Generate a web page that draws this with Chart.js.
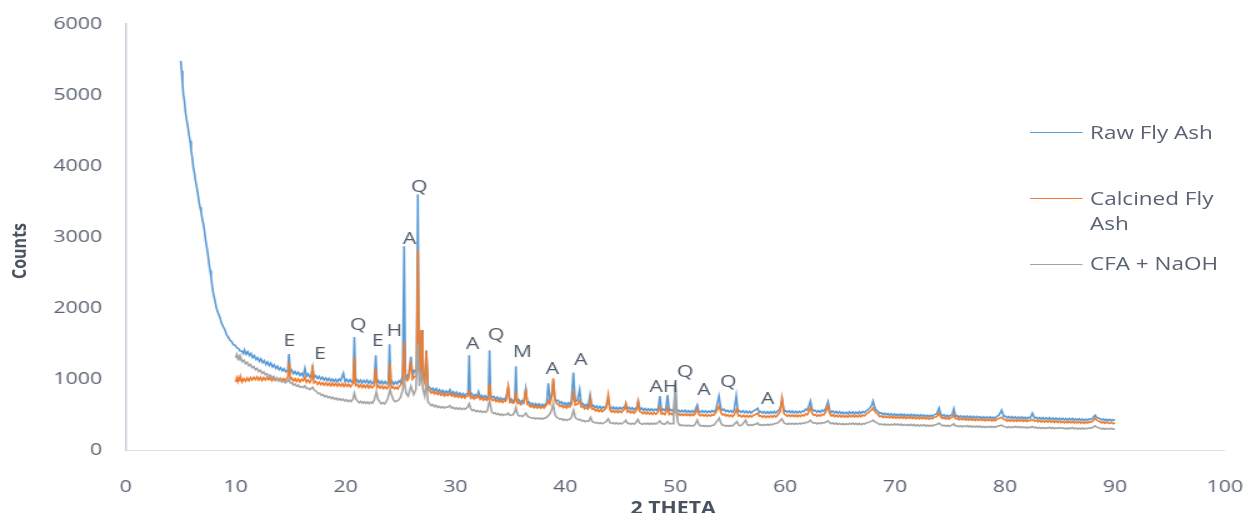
<!DOCTYPE html>
<html>
<head>
<meta charset="utf-8">
<title>XRD patterns</title>
<script src="https://cdn.jsdelivr.net/npm/chart.js@4.4.1/dist/chart.umd.min.js"></script>
<style>
  html, body { margin: 0; padding: 0; background: #fff; overflow: hidden; width: 1244px; height: 513px; }
  #frame {
    position: absolute; left: 0; top: 0; width: 995px; height: 513px;
    transform: scaleX(1.25); transform-origin: 0 0;
    font-family: "Open Sans", sans-serif; color: #5a6372;
  }
  #box { position: absolute; left: 0; top: 0; width: 995px; height: 513px; }
  .axis-title { position: absolute; font-weight: bold; font-size: 16px; color: #4a5261; white-space: nowrap; line-height: 22px; }
  #ytitle { left: 14.5px; top: 251px; transform: translate(-50%, -50%) rotate(-90deg); }
  #xtitle { left: 538.5px; top: 497px; transform: translateX(-50%); font-size: 17px; }
  .key-line { position: absolute; left: 824px; width: 42px; height: 0; border-top: 1px solid; }
  .key-text { position: absolute; left: 872px; font-size: 18px; line-height: 25px; white-space: nowrap; color: #5a6372; }
</style>
</head>
<body>
<div id="frame">
  <div id="box"><canvas id="xrd"></canvas></div>
  <div class="axis-title" id="ytitle">Counts</div>
  <div class="axis-title" id="xtitle">2 THETA</div>
  <div id="legend"></div>
</div>
<script>
// Diffraction patterns: [2θ, counts]
const rawFlyAsh = [
  [5,5480],[5.08,5340],[5.16,5170],[5.24,5012],[5.34,4910],[5.44,4750],[5.55,4637],[5.65,4550],[5.75,4440],[5.85,4356],[5.95,4220],[6.05,4120],[6.15,3981],[6.25,3900],[6.35,3790],[6.46,3700],[6.56,3610],[6.66,3500],[6.76,3419],[6.86,3350],[6.96,3250],[7.06,3185],[7.16,3090],[7.26,2960],[7.37,2857],[7.47,2760],[7.57,2630],[7.67,2529],[7.77,2430],[7.87,2300],[7.97,2202],[8.12,2100],[8.27,1990],[8.43,1921],[8.58,1860],[8.73,1780],[8.88,1733],[9.03,1690],[9.18,1620],[9.33,1590],[9.49,1546],[9.64,1525],[9.79,1485],[9.95,1475],[10.1,1440],[10.25,1430],[10.4,1395],[10.55,1395],[10.7,1360],
  [10.8,1410],[10.95,1350],[11.1,1385],[11.25,1330],[11.4,1360],[11.55,1300],[11.7,1330],[11.85,1275],[12,1300],[12.15,1250],[12.3,1285],[12.45,1230],[12.6,1260],[12.75,1205],[12.9,1240],[13.05,1190],[13.2,1225],[13.35,1170],[13.5,1200],[13.65,1150],[13.8,1180],[13.95,1130],[14.1,1160],[14.25,1115],[14.4,1145],[14.55,1100],[14.75,1125],[14.85,1350],[14.97,1100],[15.1,1125],[15.25,1075],[15.4,1105],[15.55,1065],[15.7,1095],[15.85,1050],[16,1080],[16.15,1040],[16.3,1150],[16.45,1040],[16.6,1070],[16.75,1025],[16.88,1055],[17,1160],[17.12,1020],[17.3,1045],[17.45,1005],[17.6,1035],[17.75,995],[17.9,1025],[18.05,985],[18.2,1015],[18.35,975],[18.5,1010],[18.65,970],[18.8,1000],[18.95,965],[19.1,995],[19.25,960],[19.4,1000],[19.55,975],[19.8,1080],[19.95,965],[20.1,995],[20.25,960],[20.4,990],[20.55,955],[20.7,985],[20.8,1590],[20.92,960],[21.05,990],[21.2,950],[21.35,985],[21.5,945],[21.65,980],[21.8,950],[21.95,985],[22.1,940],[22.25,975],[22.4,935],[22.6,965],[22.75,1335],[22.87,945],[23.0,975],[23.15,935],[23.3,970],[23.45,930],[23.6,965],[23.75,930],[23.9,960],[24.0,1490],[24.12,940],[24.25,965],[24.4,925],[24.55,960],[24.7,930],[24.85,975],[25.0,950],[25.2,1050],[25.33,2870],[25.44,1080],[25.6,1020],[25.75,1075],[25.95,1314],[26.1,1040],[26.25,1120],[26.46,1100],[26.58,3600],[26.68,1200],[26.8,1150],[26.9,1690],[27.0,1100],[27.2,1000],[27.35,1400],[27.5,900],[27.65,880],[27.8,845],[27.95,870],[28.1,830],[28.25,865],[28.4,820],[28.55,850],[28.7,810],[28.85,840],[29.0,800],[29.15,830],[29.3,800],[29.5,850],[29.65,790],[29.8,820],[29.95,780],[30.1,815],[30.25,775],[30.4,805],[30.55,765],[30.7,795],[30.85,760],[31.0,790],[31.15,800],[31.25,1335],[31.35,770],[31.5,795],[31.65,750],[31.8,780],[31.95,755],[32.1,820],[32.25,740],[32.4,770],[32.55,735],[32.7,765],[32.85,730],[33.0,770],[33.1,1405],[33.2,760],[33.35,735],[33.5,755],[33.65,715],[33.8,745],[33.95,705],[34.1,735],[34.25,700],[34.4,725],[34.55,695],[34.8,880],[34.95,690],[35.1,715],[35.25,685],[35.4,710],[35.5,1180],[35.6,690],[35.75,710],[35.9,670],[36.05,695],[36.2,665],[36.4,860],[36.55,660],[36.7,675],[36.85,635],[37.0,660],[37.15,625],[37.3,655],[37.45,620],[37.6,650],[37.75,615],[37.9,645],[38.05,615],[38.2,650],[38.3,660],[38.45,940],[38.6,700],[38.75,760],[38.9,980],[39.05,720],[39.2,690],[39.35,700],[39.5,655],[39.65,680],[39.8,640],[39.95,665],[40.1,630],[40.25,665],[40.4,640],[40.55,690],[40.73,1090],[40.9,680],[41.1,700],[41.3,850],[41.45,640],[41.6,655],[41.75,615],[41.9,640],[42.05,605],[42.25,775],[42.4,605],[42.55,630],[42.7,595],[42.85,620],[43.0,585],[43.15,615],[43.3,580],[43.45,610],[43.6,590],[43.75,630],[43.9,720],[44.05,600],[44.2,580],[44.35,605],[44.5,575],[44.65,600],[44.8,570],[44.95,600],[45.1,575],[45.25,600],[45.4,590],[45.5,650],[45.65,580],[45.8,600],[45.95,570],[46.1,595],[46.25,565],[46.4,590],[46.5,600],[46.65,680],[46.8,565],[46.95,590],[47.1,560],[47.25,585],[47.4,555],[47.55,580],[47.7,555],[47.85,580],[48.0,550],[48.15,575],[48.3,560],[48.45,590],[48.6,760],[48.75,550],[48.9,575],[49.05,555],[49.15,590],[49.3,775],[49.45,550],[49.6,570],[49.75,545],[49.88,580],[50,900],[50.15,540],[50.3,560],[50.45,535],[50.6,560],[50.75,535],[50.9,560],[51.05,530],[51.2,555],[51.35,528],[51.5,555],[51.65,530],[51.8,560],[52,633],[52.15,545],[52.3,530],[52.45,555],[52.6,528],[52.75,552],[52.9,525],[53.05,550],[53.2,528],[53.35,555],[53.5,535],[53.7,570],[53.97,760],[54.15,590],[54.3,560],[54.45,575],[54.6,540],[54.75,560],[54.9,532],[55.05,555],[55.2,530],[55.35,560],[55.55,760],[55.7,540],[55.85,555],[56.0,528],[56.15,552],[56.3,525],[56.45,548],[56.6,522],[56.75,545],[56.9,520],[57.05,545],[57.25,560],[57.5,590],[57.65,530],[57.8,545],[57.95,518],[58.1,542],[58.25,515],[58.4,540],[58.55,515],[58.7,540],[58.85,518],[59.0,545],[59.15,520],[59.3,548],[59.5,570],[59.74,700],[59.9,540],[60.05,555],[60.2,528],[60.35,552],[60.5,525],[60.65,550],[60.8,522],[60.95,545],[61.1,520],[61.25,545],[61.4,525],[61.55,550],[61.7,540],[61.85,575],[62.0,560],[62.15,620],[62.3,690],[62.45,580],[62.6,550],[62.75,560],[62.9,530],[63.05,555],[63.2,530],[63.35,560],[63.5,545],[63.7,590],[63.9,680],[64.05,560],[64.2,530],[64.35,550],[64.5,520],[64.65,545],[64.8,515],[64.95,540],[65.1,512],[65.25,535],[65.4,510],[65.55,532],[65.7,508],[65.85,540],[66.0,515],[66.15,538],[66.3,510],[66.45,535],[66.6,512],[66.75,540],[66.9,515],[67.05,542],[67.2,525],[67.35,550],[67.5,560],[67.75,600],[67.9,640],[68,690],[68.15,600],[68.3,560],[68.45,545],[68.6,515],[68.75,525],[68.9,500],[69.05,518],[69.2,495],[69.35,515],[69.5,490],[69.65,510],[69.8,487],[69.95,508],[70.1,485],[70.25,505],[70.4,484],[70.55,506],[70.7,482],[70.85,502],[71.0,478],[71.15,500],[71.3,480],[71.45,502],[71.6,476],[71.75,498],[71.9,474],[72.05,496],[72.2,472],[72.35,495],[72.5,474],[72.65,494],[72.8,470],[72.95,490],[73.1,468],[73.25,490],[73.4,472],[73.55,495],[73.8,510],[74,590],[74.15,510],[74.3,478],[74.45,496],[74.6,470],[74.75,490],[74.9,468],[75.05,490],[75.2,500],[75.35,580],[75.5,475],[75.65,485],[75.8,460],[75.95,482],[76.1,458],[76.25,480],[76.4,456],[76.55,478],[76.7,454],[76.85,476],[77.0,452],[77.15,474],[77.3,450],[77.45,472],[77.6,452],[77.75,470],[77.9,448],[78.05,468],[78.2,446],[78.35,466],[78.5,448],[78.65,468],[78.8,444],[78.95,464],[79.1,446],[79.25,470],[79.45,490],[79.7,560],[79.9,470],[80.05,475],[80.2,450],[80.35,472],[80.5,448],[80.65,470],[80.8,444],[80.95,468],[81.1,442],[81.25,466],[81.4,444],[81.55,468],[81.7,442],[81.85,462],[82.0,440],[82.15,460],[82.3,450],[82.5,520],[82.7,448],[82.85,460],[83.0,436],[83.15,458],[83.3,434],[83.45,456],[83.6,432],[83.75,455],[83.9,434],[84.05,456],[84.2,430],[84.35,452],[84.5,428],[84.65,450],[84.8,426],[84.95,448],[85.1,425],[85.25,446],[85.4,424],[85.55,444],[85.7,422],[85.85,444],[86.0,424],[86.15,446],[86.3,420],[86.45,440],[86.6,418],[86.75,440],[86.9,418],[87.05,438],[87.2,416],[87.35,436],[87.5,418],[87.65,438],[87.8,430],[88.0,455],[88.2,490],[88.35,460],[88.5,450],[88.65,440],[88.8,422],[88.95,438],[89.1,415],[89.25,434],[89.4,412],[89.55,430],[89.7,410],[89.85,428],[90,415]
];

const calcinedFlyAsh = [
  [10,960],[10.1,1015],[10.2,965],[10.3,1020],[10.4,975],[10.5,1010],[10.6,960],[10.75,1005],[10.9,970],[11.05,1015],[11.2,975],[11.35,1020],[11.5,985],[11.65,1025],[11.8,990],[11.95,1030],[12.1,985],[12.25,1025],[12.4,980],[12.55,1020],[12.7,985],[12.85,1025],[13.0,990],[13.15,1020],[13.3,975],[13.45,1015],[13.6,980],[13.75,1015],[13.9,975],[14.05,1010],[14.2,970],[14.35,1005],[14.5,975],[14.65,1010],[14.75,1030],[14.85,1237],[14.97,1000],[15.1,1015],[15.25,970],[15.4,1005],[15.55,965],[15.7,1000],[15.85,960],[16.0,995],[16.15,975],[16.3,1030],[16.45,955],[16.6,985],[16.75,950],[16.88,985],[17,1195],[17.12,945],[17.3,965],[17.45,925],[17.6,955],[17.75,920],[17.9,950],[18.05,915],[18.2,945],[18.35,910],[18.5,940],[18.65,905],[18.8,940],[18.95,905],[19.1,935],[19.25,900],[19.4,935],[19.55,900],[19.7,935],[19.85,895],[20.0,930],[20.15,895],[20.3,925],[20.45,890],[20.6,925],[20.7,940],[20.8,1310],[20.92,910],[21.05,925],[21.2,885],[21.35,920],[21.5,880],[21.65,915],[21.8,880],[21.95,915],[22.1,875],[22.25,910],[22.4,875],[22.6,905],[22.75,1150],[22.87,880],[23.0,905],[23.15,870],[23.3,900],[23.45,865],[23.6,895],[23.75,862],[23.93,895],[24.05,1220],[24.17,875],[24.3,890],[24.45,860],[24.6,885],[24.75,860],[24.9,900],[25.05,920],[25.2,980],[25.33,1523],[25.45,1000],[25.6,975],[25.75,1010],[25.95,1250],[26.1,1000],[26.25,1030],[26.46,1050],[26.58,2825],[26.68,1150],[26.8,1100],[26.9,1690],[27.0,1050],[27.2,950],[27.35,1400],[27.5,850],[27.65,830],[27.8,800],[27.95,825],[28.1,790],[28.25,815],[28.4,780],[28.55,805],[28.7,770],[28.85,795],[29.0,762],[29.15,788],[29.3,765],[29.5,800],[29.65,760],[29.8,780],[29.95,748],[30.1,772],[30.25,742],[30.4,768],[30.55,735],[30.7,762],[30.85,730],[31.0,755],[31.15,765],[31.25,820],[31.4,728],[31.55,750],[31.7,718],[31.85,742],[31.95,735],[32.1,770],[32.25,712],[32.4,735],[32.55,702],[32.7,728],[32.85,700],[33.0,730],[33.1,940],[33.25,715],[33.4,695],[33.55,715],[33.7,682],[33.85,705],[34.0,675],[34.15,700],[34.3,668],[34.45,695],[34.6,700],[34.8,890],[34.95,670],[35.1,680],[35.25,658],[35.4,680],[35.5,820],[35.65,655],[35.8,665],[35.95,638],[36.1,660],[36.25,680],[36.4,860],[36.55,640],[36.7,630],[36.85,605],[37.0,625],[37.15,595],[37.3,620],[37.45,590],[37.6,615],[37.75,588],[37.9,612],[38.05,590],[38.2,620],[38.35,650],[38.45,700],[38.6,650],[38.78,760],[38.9,1010],[39.05,700],[39.2,655],[39.35,640],[39.5,615],[39.65,630],[39.8,598],[39.95,620],[40.1,592],[40.25,620],[40.4,605],[40.55,640],[40.75,800],[40.9,630],[41.1,645],[41.3,700],[41.45,605],[41.6,615],[41.75,580],[41.9,598],[42.05,575],[42.2,610],[42.3,720],[42.45,575],[42.6,580],[42.75,550],[42.9,572],[43.05,542],[43.2,565],[43.35,538],[43.5,560],[43.7,590],[43.9,775],[44.05,570],[44.2,535],[44.35,555],[44.5,530],[44.65,552],[44.8,525],[44.95,550],[45.1,528],[45.25,555],[45.4,580],[45.5,650],[45.65,535],[45.8,550],[45.95,522],[46.1,545],[46.25,520],[46.4,548],[46.5,580],[46.6,680],[46.75,540],[46.9,535],[47.05,512],[47.2,535],[47.35,508],[47.5,530],[47.65,505],[47.8,528],[47.95,502],[48.1,525],[48.25,505],[48.4,530],[48.6,600],[48.75,505],[48.9,520],[49.05,498],[49.15,530],[49.3,600],[49.45,500],[49.6,515],[49.75,495],[49.88,540],[50,700],[50.15,500],[50.3,510],[50.45,488],[50.6,508],[50.75,486],[50.9,506],[51.05,484],[51.2,505],[51.35,482],[51.5,504],[51.65,485],[51.8,510],[52,580],[52.15,500],[52.3,480],[52.45,500],[52.6,478],[52.75,498],[52.9,476],[53.05,496],[53.2,478],[53.35,500],[53.5,490],[53.7,530],[54,620],[54.15,530],[54.3,495],[54.45,505],[54.6,478],[54.75,498],[54.9,472],[55.05,494],[55.2,470],[55.35,495],[55.6,580],[55.75,480],[55.9,490],[56.05,466],[56.2,488],[56.35,464],[56.5,486],[56.65,462],[56.8,485],[56.95,464],[57.1,488],[57.3,500],[57.5,520],[57.65,475],[57.8,482],[57.95,460],[58.1,482],[58.25,458],[58.4,480],[58.55,460],[58.7,482],[58.85,462],[59.0,485],[59.15,465],[59.3,490],[59.55,540],[59.7,730],[59.9,510],[60.05,495],[60.2,475],[60.35,495],[60.5,472],[60.65,492],[60.8,470],[60.95,490],[61.1,468],[61.25,490],[61.4,472],[61.55,495],[61.7,480],[61.85,505],[62.0,495],[62.15,540],[62.3,600],[62.45,520],[62.6,490],[62.75,500],[62.9,475],[63.05,495],[63.2,478],[63.35,500],[63.5,492],[63.7,540],[63.9,620],[64.05,515],[64.2,480],[64.35,496],[64.5,470],[64.65,490],[64.8,468],[64.95,488],[65.1,465],[65.25,486],[65.4,463],[65.55,484],[65.7,462],[65.85,488],[66.0,468],[66.15,488],[66.3,464],[66.45,486],[66.6,465],[66.75,490],[66.9,468],[67.05,492],[67.2,480],[67.35,500],[67.5,520],[67.75,550],[67.9,570],[68,590],[68.15,545],[68.3,520],[68.45,500],[68.6,470],[68.75,482],[68.9,458],[69.05,476],[69.2,455],[69.35,474],[69.5,452],[69.65,472],[69.8,450],[69.95,470],[70.1,448],[70.25,468],[70.4,448],[70.55,470],[70.7,446],[70.85,466],[71.0,444],[71.15,464],[71.3,446],[71.45,466],[71.6,442],[71.75,462],[71.9,440],[72.05,460],[72.2,438],[72.35,458],[72.5,440],[72.65,460],[72.8,436],[72.95,456],[73.1,434],[73.25,454],[73.4,438],[73.55,460],[73.8,470],[74,520],[74.15,470],[74.3,444],[74.45,460],[74.6,436],[74.75,456],[74.9,434],[75.05,454],[75.2,460],[75.35,500],[75.5,440],[75.65,448],[75.8,426],[75.95,446],[76.1,424],[76.25,444],[76.4,422],[76.55,442],[76.7,420],[76.85,440],[77.0,418],[77.15,438],[77.3,416],[77.45,436],[77.6,418],[77.75,436],[77.9,414],[78.05,434],[78.2,412],[78.35,432],[78.5,414],[78.65,434],[78.8,410],[78.95,430],[79.1,412],[79.25,432],[79.45,445],[79.7,460],[79.9,430],[80.05,428],[80.2,408],[80.35,428],[80.5,406],[80.65,426],[80.8,404],[80.95,424],[81.1,404],[81.25,424],[81.4,406],[81.55,426],[81.7,402],[81.85,422],[82.0,400],[82.15,420],[82.3,412],[82.5,430],[82.7,405],[82.85,418],[83.0,396],[83.15,416],[83.3,394],[83.45,414],[83.6,392],[83.75,412],[83.9,394],[84.05,414],[84.2,390],[84.35,410],[84.5,388],[84.65,408],[84.8,386],[84.95,406],[85.1,386],[85.25,404],[85.4,384],[85.55,402],[85.7,382],[85.85,402],[86.0,384],[86.15,404],[86.3,380],[86.45,400],[86.6,378],[86.75,398],[86.9,378],[87.05,396],[87.2,376],[87.35,396],[87.5,378],[87.65,398],[87.8,390],[88.0,410],[88.2,450],[88.35,420],[88.5,410],[88.65,398],[88.8,382],[88.95,396],[89.1,376],[89.25,394],[89.5,372],[89.7,390],[89.85,370],[90,385]
];

const cfaNaOH = [
  [10,1300],[10.1,1345],[10.2,1285],[10.3,1320],[10.4,1270],[10.5,1290],[10.6,1245],[10.75,1265],[10.9,1215],[11.05,1235],[11.2,1185],[11.35,1205],[11.5,1160],[11.65,1175],[11.8,1130],[11.95,1150],[12.1,1105],[12.25,1125],[12.4,1080],[12.55,1100],[12.7,1060],[12.85,1075],[13.0,1035],[13.15,1055],[13.3,1015],[13.45,1035],[13.6,995],[13.75,1015],[13.9,975],[14.05,995],[14.2,958],[14.35,975],[14.5,945],[14.65,960],[14.75,975],[14.85,1000],[14.97,945],[15.1,945],[15.25,915],[15.4,930],[15.55,898],[15.7,915],[15.85,882],[16.0,895],[16.15,880],[16.3,905],[16.45,865],[16.6,872],[16.75,850],[16.88,870],[17,885],[17.15,845],[17.35,825],[17.5,795],[17.65,800],[17.8,770],[17.95,780],[18.1,750],[18.25,765],[18.4,738],[18.55,752],[18.7,725],[18.85,742],[19.0,715],[19.15,732],[19.3,705],[19.45,722],[19.6,700],[19.75,718],[19.9,690],[20.05,710],[20.2,682],[20.35,702],[20.5,680],[20.68,720],[20.8,800],[20.95,715],[21.1,690],[21.25,665],[21.4,685],[21.55,658],[21.7,680],[21.85,655],[22.0,678],[22.15,652],[22.3,675],[22.45,660],[22.6,700],[22.8,820],[22.95,715],[23.1,680],[23.25,650],[23.4,668],[23.55,648],[23.7,680],[23.85,730],[24.05,850],[24.2,770],[24.35,710],[24.5,680],[24.65,690],[24.8,700],[25.0,740],[25.2,850],[25.33,1000],[25.5,800],[25.7,760],[25.95,900],[26.2,780],[26.4,850],[26.58,1500],[26.72,900],[26.9,1100],[27.05,850],[27.2,760],[27.35,950],[27.5,680],[27.65,650],[27.8,625],[27.95,640],[28.1,610],[28.25,628],[28.4,598],[28.55,615],[28.7,595],[28.85,612],[29.0,590],[29.15,608],[29.3,600],[29.5,625],[29.65,590],[29.8,602],[29.95,578],[30.1,596],[30.25,574],[30.4,592],[30.55,570],[30.75,588],[30.9,575],[31.1,605],[31.25,650],[31.4,580],[31.55,555],[31.7,565],[31.85,540],[32.0,556],[32.15,535],[32.3,550],[32.45,530],[32.6,545],[32.75,530],[32.9,555],[33.1,700],[33.3,540],[33.45,515],[33.6,525],[33.75,500],[33.9,512],[34.05,492],[34.2,506],[34.35,488],[34.5,502],[34.65,495],[34.8,520],[34.95,490],[35.1,488],[35.25,498],[35.4,540],[35.5,600],[35.65,500],[35.8,478],[35.95,485],[36.1,470],[36.25,495],[36.4,520],[36.55,480],[36.7,462],[36.85,458],[37.0,445],[37.15,455],[37.3,438],[37.45,452],[37.6,436],[37.75,450],[37.9,434],[38.05,450],[38.2,448],[38.35,470],[38.5,490],[38.7,540],[38.9,650],[39.05,500],[39.2,462],[39.35,450],[39.5,435],[39.65,440],[39.8,420],[39.95,432],[40.1,415],[40.25,432],[40.4,430],[40.55,460],[40.75,560],[40.9,460],[41.05,438],[41.2,425],[41.35,430],[41.5,408],[41.65,415],[41.8,398],[41.95,410],[42.1,402],[42.3,460],[42.45,400],[42.6,392],[42.75,378],[42.9,388],[43.05,372],[43.2,384],[43.35,370],[43.5,382],[43.7,400],[43.9,440],[44.05,388],[44.2,372],[44.35,385],[44.5,368],[44.65,382],[44.8,366],[44.95,380],[45.1,366],[45.25,384],[45.4,400],[45.5,420],[45.65,375],[45.8,376],[45.95,364],[46.1,378],[46.25,364],[46.4,385],[46.6,430],[46.75,380],[46.9,370],[47.05,362],[47.2,378],[47.35,364],[47.5,380],[47.65,362],[47.8,378],[47.95,362],[48.1,376],[48.25,366],[48.4,384],[48.6,410],[48.75,372],[48.9,368],[49.05,362],[49.15,378],[49.3,400],[49.45,368],[49.6,372],[49.75,370],[49.85,500],[49.92,600],[50,950],[50.1,560],[50.2,420],[50.3,368],[50.45,345],[50.6,352],[50.75,340],[50.9,350],[51.05,338],[51.2,348],[51.35,336],[51.5,346],[51.65,338],[51.8,360],[52,420],[52.15,360],[52.3,338],[52.45,346],[52.6,332],[52.75,344],[52.9,330],[53.05,342],[53.2,334],[53.35,348],[53.5,350],[53.7,385],[54,450],[54.15,380],[54.3,350],[54.45,348],[54.6,335],[54.75,345],[54.9,334],[55.05,346],[55.2,338],[55.35,360],[55.6,400],[55.8,345],[55.95,342],[56.1,360],[56.4,420],[56.55,360],[56.7,345],[56.85,356],[57.0,345],[57.15,362],[57.3,360],[57.5,380],[57.65,350],[57.8,356],[57.95,345],[58.1,360],[58.25,348],[58.4,362],[58.55,350],[58.7,365],[58.85,355],[59.0,370],[59.2,375],[59.4,390],[59.7,440],[59.9,380],[60.05,370],[60.2,362],[60.35,376],[60.5,364],[60.65,378],[60.8,362],[60.95,376],[61.1,362],[61.25,378],[61.4,366],[61.55,382],[61.7,372],[61.85,390],[62.0,385],[62.15,400],[62.3,420],[62.45,395],[62.6,375],[62.75,385],[62.9,368],[63.05,382],[63.2,370],[63.35,386],[63.5,380],[63.7,395],[63.9,410],[64.05,385],[64.2,370],[64.35,382],[64.5,364],[64.65,378],[64.8,360],[64.95,374],[65.1,358],[65.25,372],[65.4,356],[65.55,370],[65.7,358],[65.85,376],[66.0,362],[66.15,378],[66.3,360],[66.45,376],[66.6,358],[66.75,374],[66.9,356],[67.05,372],[67.2,365],[67.35,380],[67.5,385],[67.75,400],[67.9,410],[68,420],[68.15,400],[68.3,385],[68.45,376],[68.6,358],[68.75,368],[68.9,352],[69.05,366],[69.2,350],[69.35,364],[69.5,350],[69.65,364],[69.8,352],[69.95,368],[70.1,352],[70.25,366],[70.4,350],[70.55,364],[70.7,346],[70.85,360],[71.0,344],[71.15,358],[71.3,346],[71.45,362],[71.6,344],[71.75,358],[71.9,340],[72.05,354],[72.2,338],[72.35,352],[72.5,342],[72.65,356],[72.8,336],[72.95,350],[73.1,334],[73.25,348],[73.4,338],[73.55,352],[73.8,360],[74,380],[74.15,360],[74.3,340],[74.45,350],[74.6,334],[74.75,348],[74.9,332],[75.05,346],[75.2,350],[75.35,370],[75.5,340],[75.65,342],[75.8,328],[75.95,342],[76.1,326],[76.25,340],[76.4,330],[76.55,344],[76.7,326],[76.85,340],[77.0,322],[77.15,336],[77.3,324],[77.45,338],[77.6,322],[77.75,336],[77.9,318],[78.05,332],[78.2,318],[78.35,332],[78.5,320],[78.65,334],[78.8,318],[78.95,332],[79.1,318],[79.25,334],[79.45,340],[79.7,350],[79.9,330],[80.05,328],[80.2,314],[80.35,328],[80.5,314],[80.65,328],[80.8,316],[80.95,332],[81.1,316],[81.25,330],[81.4,314],[81.55,328],[81.7,312],[81.85,324],[82.0,308],[82.15,322],[82.3,316],[82.5,330],[82.7,312],[82.85,320],[83.0,306],[83.15,318],[83.3,304],[83.45,316],[83.6,302],[83.75,314],[83.9,306],[84.05,320],[84.2,304],[84.35,316],[84.5,300],[84.65,312],[84.8,302],[84.95,318],[85.1,304],[85.25,314],[85.4,298],[85.55,310],[85.7,296],[85.85,310],[86.0,302],[86.15,316],[86.3,298],[86.45,310],[86.6,294],[86.75,308],[86.9,296],[87.05,310],[87.2,296],[87.35,308],[87.5,298],[87.65,312],[87.8,305],[88.0,320],[88.2,340],[88.35,322],[88.5,315],[88.65,308],[88.8,296],[88.95,306],[89.1,292],[89.25,304],[89.5,294],[89.7,306],[89.85,292],[90,300]
];

// Phase identifications written above the reflections
const peakLabels = ['E','E','Q','E','H','A','Q','A','Q','M','A','A','AH','Q','A','Q','A'];
const peakLabelX = [14.89,17.68,21.16,22.93,24.44,25.81,26.69,31.57,33.69,36.09,38.82,41.4,48.98,50.89,52.62,54.83,58.42];
const peakLabelY = [1536,1345,1756,1536,1676,2965,3700,1489,1616,1373,1134,1265,889,1100,843,951,717];

const seriesNames = ['Raw Fly Ash', 'Calcined Fly Ash', 'CFA + NaOH'];
const seriesColors = ['#5b9bd5', '#ed7d31', '#a5a5a5'];
const xTicks = [0, 10, 20, 30, 40, 50, 60, 70, 80, 90, 100];
const yTicks = [0, 1000, 2000, 3000, 4000, 5000, 6000];

const inkColor = '#5a6372';
Chart.defaults.font.family = '"Open Sans", sans-serif';
Chart.defaults.color = inkColor;

const toPoints = arr => arr.map(p => ({ x: p[0], y: p[1] }));

const peakLabelPlugin = {
  id: 'peakLabels',
  afterDatasetsDraw(chart) {
    const { ctx, scales: { x, y } } = chart;
    ctx.save();
    ctx.font = '17px "Open Sans", sans-serif';
    ctx.fillStyle = '#4f5a6a';
    ctx.textAlign = 'center';
    ctx.textBaseline = 'middle';
    peakLabels.forEach((t, i) => {
      ctx.fillText(t, x.getPixelForValue(peakLabelX[i]), y.getPixelForValue(peakLabelY[i]));
    });
    ctx.restore();
  }
};

const allSeries = [rawFlyAsh, calcinedFlyAsh, cfaNaOH];

new Chart(document.getElementById('xrd'), {
  type: 'line',
  data: {
    datasets: allSeries.map((s, i) => ({
      label: seriesNames[i],
      data: toPoints(s),
      borderColor: seriesColors[i],
      backgroundColor: seriesColors[i],
      borderWidth: 1.6,
      pointRadius: 0,
      tension: 0,
      fill: false,
      order: 2 - i
    }))
  },
  options: {
    responsive: true,
    maintainAspectRatio: false,
    animation: false,
    events: [],
    layout: { padding: { top: 24, right: 15.2, bottom: 0, left: 0 } },
    plugins: { legend: { display: false }, tooltip: { enabled: false } },
    scales: {
      x: {
        type: 'linear',
        min: 0, max: 100,
        afterBuildTicks: sc => { sc.ticks = xTicks.map(v => ({ value: v })); },
        afterFit: sc => { sc.height = 63; sc.paddingLeft = 0; sc.paddingRight = 0; },
        grid: { display: false, drawTicks: false },
        border: { display: true, color: '#dde1e8', width: 1 },
        ticks: { padding: 27, font: { size: 17 }, color: inkColor, maxRotation: 0, callback: v => String(v) }
      },
      y: {
        type: 'linear',
        min: 0, max: 6000,
        afterBuildTicks: sc => { sc.ticks = yTicks.map(v => ({ value: v })); },
        afterFit: sc => { sc.width = 100.6; sc.paddingTop = 0; sc.paddingBottom = 0; },
        grid: { display: false, drawTicks: false },
        border: { display: true, color: '#c9ced8', width: 1.5 },
        ticks: { padding: 19, font: { size: 17 }, color: inkColor, callback: v => String(v) }
      }
    }
  },
  plugins: [peakLabelPlugin]
});

// Legend key on the right of the plot
const legendRows = [
  { lineTop: 132, textTop: 119.5, html: 'Raw Fly Ash' },
  { lineTop: 198, textTop: 185.5, html: 'Calcined Fly<br>Ash' },
  { lineTop: 264, textTop: 251, html: 'CFA + NaOH' }
];
const legendEl = document.getElementById('legend');
legendRows.forEach((r, i) => {
  const ln = document.createElement('div');
  ln.className = 'key-line';
  ln.style.top = r.lineTop + 'px';
  ln.style.borderTopColor = seriesColors[i];
  legendEl.appendChild(ln);
  const tx = document.createElement('div');
  tx.className = 'key-text';
  tx.style.top = r.textTop + 'px';
  tx.innerHTML = r.html;
  legendEl.appendChild(tx);
});
</script>
</body>
</html>
